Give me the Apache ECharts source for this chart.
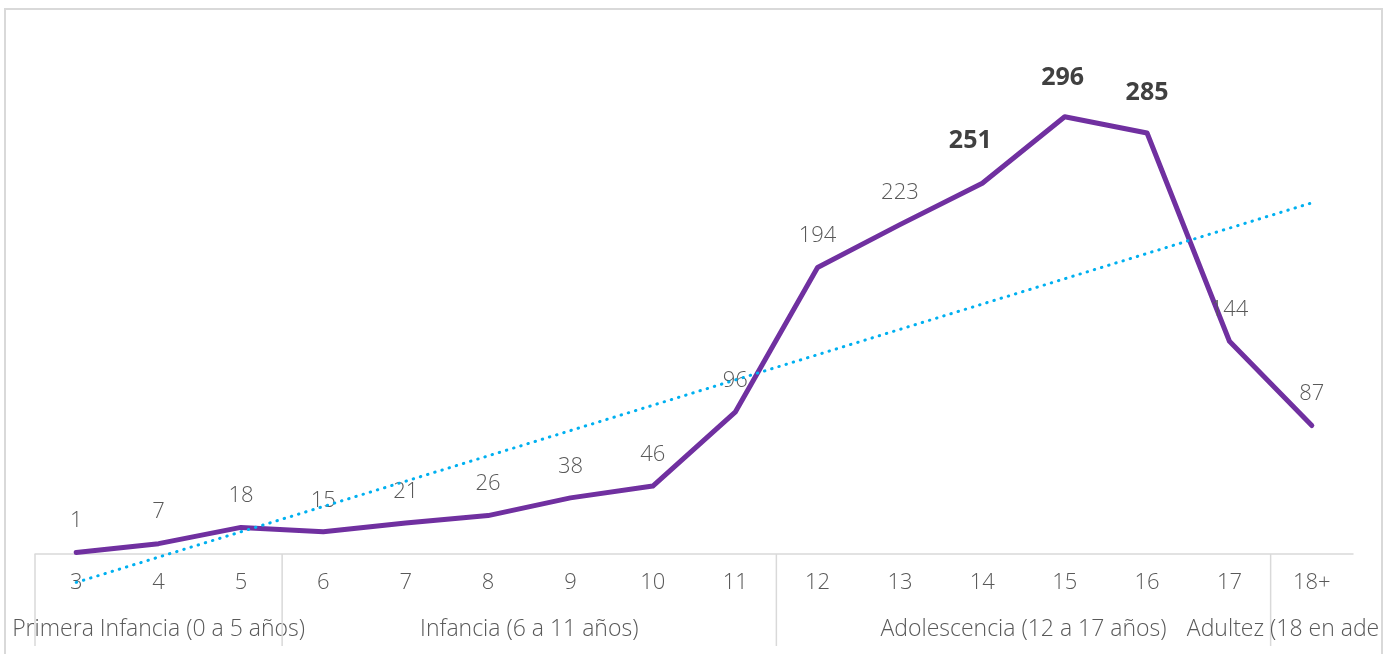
<!DOCTYPE html>
<html>
<head>
<meta charset="utf-8">
<script src="https://cdn.jsdelivr.net/npm/echarts@6/dist/echarts.min.js"></script>
<style>
  html, body { margin: 0; padding: 0; background: #ffffff; }
  #frame { position: absolute; left: 4px; top: 8px; width: 1375px; height: 700px; border: 2px solid #d9d9d9; box-sizing: content-box; }
  #chart { position: absolute; left: 0; top: 0; width: 1381px; height: 654px; overflow: hidden; }
</style>
</head>
<body>
<div id="frame"></div>
<div id="chart"></div>
<script>
// ---- data ----
const categories = ['3','4','5','6','7','8','9','10','11','12','13','14','15','16','17','18+'];
const values = [1, 7, 18, 15, 21, 26, 38, 46, 96, 194, 223, 251, 296, 285, 144, 87];
const highlighted = ['14', '15', '16'];
const groupNames = ['Primera Infancia (0 a 5 años)', 'Infancia (6 a 11 años)', 'Adolescencia (12 a 17 años)', 'Adultez (18 en adelante)'];
const groupFirst = ['3', '6', '12', '18+'];
const groupLast = ['5', '11', '17', '18+'];

// Linear trendline (least squares, like a spreadsheet trendline)
const n = values.length;
const xs = values.map((_, i) => i + 1);
const xm = xs.reduce((a, b) => a + b, 0) / n;
const ym = values.reduce((a, b) => a + b, 0) / n;
let sxy = 0, sxx = 0;
for (let i = 0; i < n; i++) { sxy += (xs[i] - xm) * (values[i] - ym); sxx += (xs[i] - xm) * (xs[i] - xm); }
const slope = sxy / sxx, icpt = ym - slope * xm;
const trend = xs.map(x => +(icpt + slope * x).toFixed(3));

const labelOffsets = { '14': [-12, -9], '15': [-2, -6], '16': [0, -7] };
const mainData = values.map((v, i) => {
  const c = categories[i];
  if (highlighted.indexOf(c) >= 0) {
    return { value: v, label: { fontWeight: 'bold', fontSize: 25, color: '#404040', fontFamily: '"Open Sans", Lato, sans-serif', offset: labelOffsets[c] } };
  }
  return v;
});

const FONT = '"Open Sans", Lato, sans-serif';
const chart = echarts.init(document.getElementById('chart'), null, { renderer: 'canvas' });
chart.setOption({
  animation: false,
  backgroundColor: 'transparent',
  grid: { left: 35, right: 28, top: 37, bottom: 100, containLabel: false },
  xAxis: {
    type: 'category',
    data: categories,
    boundaryGap: true,
    axisLine: { show: true, lineStyle: { color: '#d9d9d9', width: 1.5 } },
    axisTick: { show: false },
    axisLabel: { fontSize: 22, color: '#595959', fontFamily: FONT, fontWeight: 300, margin: 18, interval: 0 },
    splitLine: { show: false }
  },
  yAxis: {
    type: 'value', min: 0, max: 350, show: false,
    splitLine: { show: false }
  },
  series: [
    {
      name: 'Casos', type: 'line', data: mainData,
      symbol: 'circle', symbolSize: 1, showSymbol: true,
      itemStyle: { color: '#7030a0' },
      lineStyle: { color: '#7030a0', width: 5, cap: 'round', join: 'round' },
      label: { show: true, position: 'top', distance: 20, fontSize: 22, color: '#595959', fontFamily: FONT, fontWeight: 300 },
      z: 2
    },
    {
      name: 'Lineal', type: 'line', data: trend, clip: false,
      symbol: 'none', silent: true,
      lineStyle: { color: '#00b0f0', width: 3, type: [0.5, 7], cap: 'round' },
      z: 3
    }
  ]
});

function drawGroups() {
  const px0 = chart.convertToPixel({ xAxisIndex: 0 }, categories[0]);
  const px1 = chart.convertToPixel({ xAxisIndex: 0 }, categories[1]);
  const band = px1 - px0;
  const yAxisPx = chart.convertToPixel({ yAxisIndex: 0 }, 0);
  const elements = [];
  for (let g = 0; g < groupNames.length; g++) {
    const left = chart.convertToPixel({ xAxisIndex: 0 }, groupFirst[g]) - band / 2;
    const right = chart.convertToPixel({ xAxisIndex: 0 }, groupLast[g]) + band / 2;
    elements.push({
      type: 'line', silent: true,
      shape: { x1: left, y1: yAxisPx, x2: left, y2: yAxisPx + 92 },
      style: { stroke: '#d9d9d9', lineWidth: 1.5 }
    });
    elements.push({
      type: 'text', silent: true, x: (left + right) / 2, y: yAxisPx + 75,
      style: { text: groupNames[g], fill: '#595959', font: '300 23px "Open Sans", Lato, sans-serif', textAlign: 'center', textVerticalAlign: 'middle' }
    });
  }
  chart.setOption({ graphic: { elements: elements } });
}
drawGroups();
</script>
</body>
</html>
